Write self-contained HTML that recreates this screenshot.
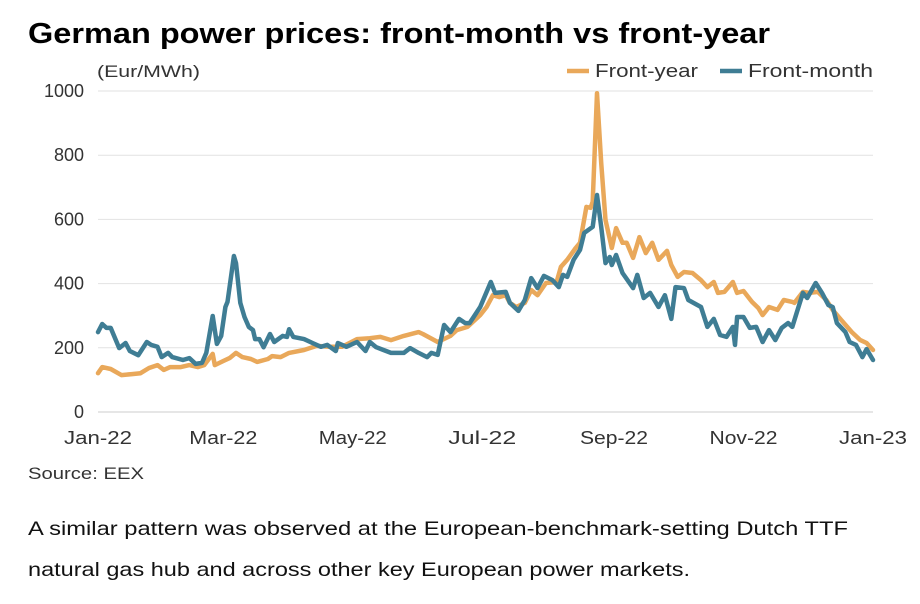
<!DOCTYPE html>
<html><head><meta charset="utf-8"><style>
body{margin:0;background:#fff;font-family:"Liberation Sans",sans-serif;color:#111}
svg{display:block}
</style></head><body>
<svg width="920" height="604">
<text x="28" y="43" font-size="29" font-weight="bold" textLength="742" lengthAdjust="spacingAndGlyphs">German power prices: front-month vs front-year</text>
<text x="97" y="77" font-size="17" fill="#333" textLength="103" lengthAdjust="spacingAndGlyphs">(Eur/MWh)</text>
<g>
<line x1="567" y1="71" x2="589" y2="71" stroke="#E9A85A" stroke-width="4.5"/>
<text x="595" y="77" font-size="18" fill="#333" textLength="103" lengthAdjust="spacingAndGlyphs">Front-year</text>
<line x1="720" y1="71" x2="742" y2="71" stroke="#3F7D94" stroke-width="4.5"/>
<text x="748" y="77" font-size="18" fill="#333" textLength="125" lengthAdjust="spacingAndGlyphs">Front-month</text>
</g>
<g id="grid"></g><g id="ylab"></g><g id="xlab"></g><g id="series"></g>
<text x="28" y="479" font-size="17" fill="#333" textLength="116" lengthAdjust="spacingAndGlyphs">Source: EEX</text>
<text x="28" y="535" font-size="19.5" fill="#111" textLength="820" lengthAdjust="spacingAndGlyphs">A similar pattern was observed at the European-benchmark-setting Dutch TTF</text>
<text x="28" y="576" font-size="19.5" fill="#111" textLength="662" lengthAdjust="spacingAndGlyphs">natural gas hub and across other key European power markets.</text>
</svg>
<script>
const yTicks=[0,200,400,600,800,1000];
const xTickLabels=["Jan-22","Mar-22","May-22","Jul-22","Sep-22","Nov-22","Jan-23"];
const xTickDays=[0,59,120,181,243,304,365];
const fmDays=[0,2,4,6,10,13,15,19,23,25,28,30,33,35,40,43,46,49,51,54,56,58,60,61,64,65,67,69,71,73,74,76,78,81,83,87,89,90,92,97,101,105,108,112,113,117,122,126,128,131,138,144,147,151,155,157,160,163,166,170,173,175,180,185,187,192,194,198,201,204,207,210,214,217,219,221,224,227,229,233,235,237,239,241,242,244,247,252,254,257,260,264,267,270,272,276,278,284,287,290,293,296,299,300,301,304,307,310,313,316,319,322,325,327,329,332,334,338,341,344,346,348,352,354,357,360,362,365];
const fmVals=[249,274,262,262,199,215,190,177,218,209,203,171,184,171,162,168,150,153,184,299,212,237,327,343,486,464,340,296,265,255,227,227,202,243,218,237,234,258,234,227,215,203,209,190,215,203,218,190,218,202,184,184,199,184,171,184,178,271,249,290,277,277,327,405,371,374,340,315,349,417,386,424,411,389,427,421,474,505,558,577,676,577,464,483,458,489,433,386,427,355,371,327,364,290,389,386,349,327,265,290,240,234,265,209,296,296,262,265,218,255,224,262,277,265,308,371,355,402,371,333,327,277,249,218,209,171,196,162];
const fyDays=[0,2,6,11,16,20,24,28,31,34,39,43,47,50,54,55,59,62,65,68,72,75,80,82,86,90,97,103,109,115,122,128,133,138,144,151,153,160,166,169,174,180,183,186,189,192,194,197,201,204,207,211,216,218,221,225,227,230,232,233,235,237,239,242,244,247,249,252,255,258,261,264,268,270,273,276,280,284,287,290,292,295,299,301,304,308,311,313,316,320,323,327,328,332,335,339,343,346,350,355,359,362,365];
const fyVals=[121,140,134,115,118,121,137,146,131,140,140,146,140,146,181,146,159,168,184,171,165,156,165,174,171,184,193,206,203,203,227,230,234,224,237,249,243,218,237,255,265,302,327,364,358,364,340,327,340,380,364,402,405,452,474,511,527,639,636,655,993,776,598,511,573,527,527,480,545,495,527,474,502,458,421,436,433,411,389,405,371,374,405,371,377,343,324,302,327,318,349,343,340,374,371,374,349,318,287,249,224,215,193];
const X0=98,X1=873,Y0=412,Y1=91;
const xs=d=>X0+d/365*(X1-X0), ys=v=>Y0-v/1000*(Y0-Y1);
const NS="http://www.w3.org/2000/svg";
function mk(t,a,p){const e=document.createElementNS(NS,t);for(const k in a)e.setAttribute(k,a[k]);p.appendChild(e);return e;}
const grid=document.getElementById('grid'),yl=document.getElementById('ylab'),xl=document.getElementById('xlab'),sr=document.getElementById('series');
yTicks.forEach(v=>{
 const l=mk('line',{x1:X0,x2:X1,y1:ys(v),y2:ys(v),stroke:v===0?'#ccc':'#e2e2e2','stroke-width':1},grid);
 
 
 const t=mk('text',{x:84,y:ys(v)+6,'text-anchor':'end','font-size':18,fill:'#333'},yl);t.textContent=v;
 
 
});
xTickLabels.forEach((s,i)=>{
 const t=mk('text',{x:xs(xTickDays[i])-34,y:444,'font-size':18,fill:'#333',textLength:68,lengthAdjust:'spacingAndGlyphs'},xl);t.textContent=s;
 
 
});
function line(d,v,c,n){
 const p=mk('path',{d:d.map((x,i)=>(i?'L':'M')+xs(x).toFixed(1)+','+ys(v[i]).toFixed(1)).join(''),fill:'none',stroke:c,'stroke-width':4.5,'stroke-linejoin':'round','stroke-linecap':'round'},sr);
 
 
}
line(fyDays,fyVals,'#E9A85A','front-year-line');
line(fmDays,fmVals,'#3F7D94','front-month-line');
</script>
</body></html>
